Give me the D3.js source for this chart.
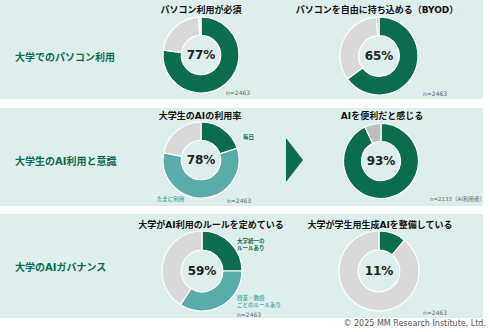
<!DOCTYPE html>
<html><head><meta charset="utf-8">
<script src="https://cdn.jsdelivr.net/npm/d3@7"></script>
<style>html,body{margin:0;padding:0;background:#fff;}svg{display:block;}</style>
</head><body>
<script>
// ---- data ----
const rowLabels = ["大学でのパソコン利用", "大学生のAI利用と意識", "大学のAIガバナンス"];
const chartTitles = ["パソコン利用が必須", "パソコンを自由に持ち込める（BYOD）", "大学生のAIの利用率", "AIを便利だと感じる", "大学がAI利用のルールを定めている", "大学が学生用生成AIを整備している"];
const centerLabels = ["77%", "65%", "78%", "93%", "59%", "11%"];
const sampleNotes = ["n=2463", "n=2463", "n=2463", "n=2133（AI利用者）", "n=2463", "n=2463"];
const pcRequired = [77, 22, 1];
const byod = [65, 34, 1];
const aiUseRate = [20, 58, 22];
const aiUseCategories = ["毎日", "たまに利用", "利用しない"];
const aiUseful = [93, 7];
const aiRules = [25, 34, 41];
const aiRuleCategories = ["大学統一の\nルールあり", "授業・教授\nごとのルールあり", "なし"];
const genAI = [11, 89];
const copyright = "© 2025 MM Research Institute, Ltd.";

// ---- style ----
const GREEN = "#0b6c4e", TEAL = "#5aaca8", GRAY = "#d9d9d9", GRAY2 = "#bdbdbd", BG = "#deeeed";
const JP = "'DejaVu Sans','Noto Sans CJK JP',sans-serif";

const W = 490, H = 332;
const svg = d3.select("body").append("svg").attr("width", W).attr("height", H);

const panels = [{y: 0, h: 99}, {y: 108, h: 98}, {y: 214, h: 104}];
svg.selectAll("rect.panel").data(panels).join("rect").attr("class", "panel")
  .attr("x", 0).attr("y", d => d.y).attr("width", 483).attr("height", d => d.h).attr("fill", BG);

const rowY = [57, 161, 267];
svg.selectAll("text.row").data(rowLabels).join("text").attr("class", "row")
  .attr("x", 15).attr("y", (d, i) => rowY[i]).attr("dominant-baseline", "central")
  .attr("font-family", JP).attr("font-weight", "bold").attr("font-size", 10).attr("fill", GREEN)
  .text(d => d);

const charts = [
  {vals: pcRequired, colors: [GREEN, GRAY, "#f2f2f2"], cx: 201, cy: 55, r: 38},
  {vals: byod, colors: [GREEN, GRAY, GRAY2], cx: 379, cy: 56, r: 39},
  {vals: aiUseRate, colors: [GREEN, TEAL, GRAY], cx: 201, cy: 160, r: 38},
  {vals: aiUseful, colors: [GREEN, GRAY2], cx: 381, cy: 161, r: 37.5},
  {vals: aiRules, colors: [GREEN, TEAL, GRAY], cx: 202, cy: 271, r: 40},
  {vals: genAI, colors: [GREEN, GRAY], cx: 379, cy: 271, r: 40}
];
const titleY = [10, 10, 116, 116, 225, 225];
const titleX = [201, 377, 200, 382, 211, 380];
const noteX = [226, 423, 227, 430, 237, 423];
const noteY = [92, 93, 200, 199, 314, 312];

const pie = d3.pie().sort(null).value(d => d);
charts.forEach((c, i) => {
  const g = svg.append("g").attr("transform", `translate(${c.cx},${c.cy})`);
  const arc = d3.arc().innerRadius(c.r * 0.52).outerRadius(c.r);
  g.selectAll("path").data(pie(c.vals)).join("path")
    .attr("d", arc).attr("fill", (d, j) => c.colors[j])
    .attr("stroke", "#fff").attr("stroke-width", 1.2);
  g.append("text").attr("text-anchor", "middle").attr("dominant-baseline", "central")
    .attr("font-family", JP).attr("font-weight", "bold").attr("font-size", 12).attr("fill", "#222")
    .text(centerLabels[i]);
  svg.append("text").attr("x", titleX[i]).attr("y", titleY[i]).attr("text-anchor", "middle")
    .attr("dominant-baseline", "central").attr("font-family", JP).attr("font-weight", "bold")
    .attr("font-size", 9).attr("fill", "#111").text(chartTitles[i]);
  svg.append("text").attr("x", noteX[i]).attr("y", noteY[i]).attr("dominant-baseline", "central")
    .attr("font-family", JP).attr("font-size", i === 3 ? 5.5 : 6).attr("fill", "#666").text(sampleNotes[i]);
});

// segment labels
function multiline(x, y, txt, color) {
  const t = svg.append("text").attr("x", x).attr("y", y).attr("font-family", JP)
    .attr("font-weight", "bold").attr("font-size", 5.5).attr("fill", color);
  txt.split("\n").forEach((s, k) => t.append("tspan").attr("x", x).attr("dy", k ? 7 : 0).text(s));
}
multiline(243, 139, aiUseCategories[0], GREEN);
multiline(157, 201, aiUseCategories[1], TEAL);
multiline(237, 243, aiRuleCategories[0], GREEN);
multiline(237, 300, aiRuleCategories[1], TEAL);

// arrow
svg.append("path").attr("d", d3.line()([[286, 138], [303, 160], [286, 182]]) + "Z").attr("fill", GREEN);

svg.append("text").attr("x", 486).attr("y", 326).attr("text-anchor", "end")
  .attr("font-family", JP).attr("font-size", 8).attr("fill", "#555").text(copyright);
</script>
</body></html>
